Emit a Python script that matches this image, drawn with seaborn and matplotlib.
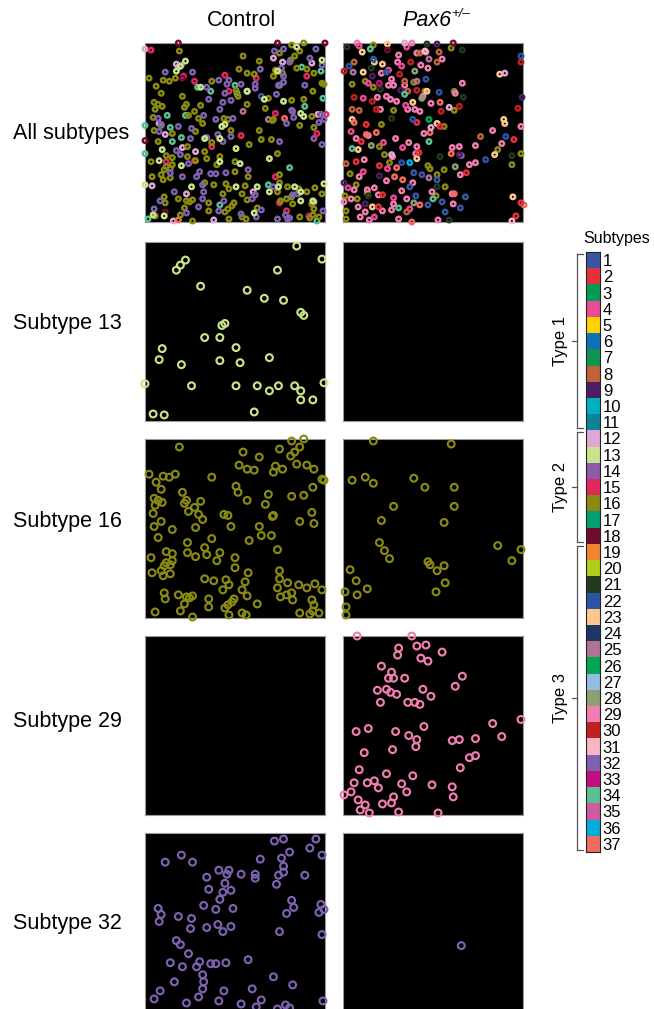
import numpy as np
import matplotlib
matplotlib.use("Agg")
import matplotlib.pyplot as plt
import seaborn as sns
from matplotlib.colors import ListedColormap

plt.rcParams['font.family'] = ['Liberation Sans', 'DejaVu Sans']

## DATA ##
# subtype colours 1..37 (legend)
subtype_colors = ['#3A55A4', '#E8303A', '#009B55', '#E84C97', '#FFD200', '#0D72B9', '#0C9650',
                  '#C0623A', '#4B1D63', '#00AFC4', '#0A8598', '#E0A7D4', '#C8E38A', '#8F5BA8',
                  '#E2295E', '#8A8A12', '#00A070', '#6E0D2E', '#F08530', '#B3CE1A', '#213A1F',
                  '#2B54A3', '#FCC88B', '#1F3566', '#B17394', '#00A651', '#94BDE3', '#8E9F73',
                  '#F27DB0', '#C0201F', '#F7B6C2', '#7E62B0', '#C10F7D', '#5CBF94', '#CF5B9E',
                  '#00AEDB', '#F26B5B']
subtype_labels = [str(i) for i in range(1, 38)]
type_groups = [('Type 1', 1, 11), ('Type 2', 12, 18), ('Type 3', 19, 37)]
row_labels = ['All subtypes', 'Subtype 13', 'Subtype 16', 'Subtype 29', 'Subtype 32']

# cell positions (um) inside a 178 x 178 field, y from top
ctrl_13 = [(150, 4), (40, 18), (35, 23), (31, 28), (175, 17), (131, 28), (55, 44), (101, 48),
           (118, 56), (137, 58), (154, 70), (157, 73), (79, 81), (76, 83), (59, 95), (74, 95),
           (90, 105), (17, 106), (14, 117), (36, 122), (74, 118), (94, 120), (123, 115), (0, 141),
           (46, 143), (90, 143), (111, 143), (123, 148), (132, 143), (148, 143), (154, 148),
           (154, 157), (166, 157), (177, 140), (8, 171), (19, 172), (108, 169)]
pax_13 = []

ctrl_16 = [(145, 2), (157, 0), (153, 8), (148, 13), (144, 17), (150, 25), (133, 10), (34, 8),
           (97, 13), (113, 18), (93, 26), (101, 30), (108, 31), (129, 27), (127, 33), (136, 30),
           (160, 26), (167, 30), (4, 35), (18, 37), (24, 38), (30, 35), (11, 43), (16, 50),
           (66, 38), (175, 40), (177, 41), (90, 47), (92, 53), (101, 61), (122, 55), (119, 65),
           (145, 57), (157, 56), (166, 48), (37, 53), (9, 59), (13, 61), (17, 63), (10, 66),
           (8, 74), (41, 61), (39, 64), (43, 72), (49, 68), (55, 62), (53, 75), (57, 80),
           (78, 75), (82, 76), (85, 87), (126, 77), (127, 76), (165, 73), (153, 82), (167, 84),
           (16, 82), (9, 87), (27, 90), (50, 88), (13, 98), (113, 87), (115, 96), (125, 96),
           (103, 101), (66, 99), (42, 103), (42, 113), (50, 117), (59, 108), (61, 115), (74, 113),
           (71, 121), (89, 118), (89, 128), (131, 110), (6, 118), (21, 112), (27, 114), (27, 121),
           (21, 123), (19, 126), (25, 125), (7, 133), (16, 131), (18, 136), (25, 134), (102, 133),
           (99, 142), (96, 150), (101, 156), (59, 139), (68, 141), (80, 140), (83, 145), (77, 150),
           (133, 131), (133, 139), (141, 143), (131, 148), (134, 157), (140, 155), (145, 153),
           (146, 160), (152, 145), (160, 148), (168, 144), (175, 150), (165, 160), (167, 165),
           (166, 171), (163, 174), (172, 173), (153, 173), (19, 153), (20, 159), (33, 155),
           (41, 157), (44, 158), (47, 156), (39, 164), (35, 171), (10, 172), (47, 177), (63, 159),
           (63, 167), (79, 168), (82, 165), (88, 159), (86, 162), (83, 175), (96, 173), (100, 175),
           (111, 164)]
pax_16 = [(30, 2), (107, 5), (9, 41), (22, 38), (30, 44), (70, 39), (81, 48), (110, 48),
          (110, 67), (50, 67), (38, 81), (100, 83), (36, 103), (41, 111), (46, 119), (84, 122),
          (86, 125), (93, 131), (100, 126), (101, 143), (92, 152), (153, 106), (176, 110),
          (167, 121), (7, 130), (13, 141), (2, 152), (14, 155), (24, 149), (3, 167), (3, 175)]

ctrl_29 = []
pax_29 = [(14, 0), (68, 0), (55, 12), (54, 19), (73, 10), (82, 9), (77, 22), (84, 25), (98, 16),
          (38, 30), (48, 36), (45, 42), (50, 42), (61, 42), (34, 54), (43, 53), (47, 56), (53, 58),
          (37, 66), (79, 53), (87, 60), (64, 66), (71, 66), (76, 68), (111, 50), (118, 40),
          (13, 95), (25, 92), (52, 95), (65, 99), (73, 103), (72, 110), (80, 90), (49, 113),
          (21, 116), (108, 104), (115, 103), (131, 102), (148, 87), (157, 100), (176, 83),
          (125, 121), (131, 119), (116, 131), (16, 133), (43, 137), (69, 139), (11, 146), (24, 146),
          (31, 144), (35, 151), (58, 147), (63, 155), (88, 148), (108, 150), (109, 160), (1, 158),
          (8, 155), (15, 163), (22, 168), (17, 173), (26, 176), (39, 167), (48, 166), (50, 160),
          (55, 175), (94, 176)]

ctrl_32 = [(128, 8), (137, 6), (169, 6), (163, 15), (175, 22), (143, 19), (135, 25), (137, 33),
           (137, 39), (132, 42), (130, 51), (158, 42), (114, 26), (109, 41), (109, 45), (95, 41),
           (20, 29), (36, 22), (47, 29), (73, 37), (83, 37), (81, 41), (61, 44), (79, 50), (63, 56),
           (77, 59), (85, 57), (74, 66), (58, 72), (70, 76), (87, 75), (13, 75), (16, 81), (14, 88),
           (33, 83), (46, 85), (45, 95), (61, 94), (72, 91), (77, 98), (85, 93), (145, 67),
           (147, 74), (140, 80), (174, 71), (177, 76), (172, 79), (175, 101), (133, 98), (31, 107),
           (35, 111), (43, 120), (25, 129), (37, 133), (51, 133), (54, 128), (65, 130), (70, 130),
           (80, 129), (102, 126), (57, 141), (58, 148), (29, 148), (57, 155), (53, 163), (15, 157),
           (9, 165), (41, 169), (78, 157), (73, 167), (95, 170), (106, 155), (115, 166), (110, 173),
           (127, 143), (146, 151), (139, 171), (131, 175), (143, 174), (176, 167)]
pax_32 = [(117, 112)]

# other subtypes, shown only in the "All subtypes" panels
ctrl_12 = [(0, 6), (31, 21), (33, 24), (20, 91), (37, 104), (50, 108), (41, 150), (7, 142),
           (107, 148), (127, 15), (165, 20), (136, 19), (171, 71), (167, 158), (68, 176), (28, 177),
           (101, 48), (14, 80)]
ctrl_14 = [(146, 68), (151, 150), (141, 175), (167, 95), (109, 151)]
ctrl_15 = [(6, 7), (38, 33), (49, 38), (79, 32), (83, 48), (110, 35), (95, 92), (66, 103),
           (49, 117), (129, 70), (129, 133), (160, 33), (170, 90), (179, 71), (133, 159),
           (140, 167), (21, 118)]
ctrl_18 = [(33, 0), (131, 0), (178, 0), (0, 97), (20, 168), (37, 35)]
ctrl_34 = [(89, 42), (91, 50), (65, 48), (52, 44), (22, 72), (25, 84), (36, 94), (27, 98),
           (0, 110), (0, 82), (143, 124), (176, 55), (174, 28), (155, 24), (158, 63), (133, 42),
           (3, 175), (74, 161), (122, 141), (170, 177), (40, 72)]
ctrl_1 = [(115, 53)]
ctrl_37 = [(33, 176), (138, 75)]
ctrl_25 = [(97, 68), (122, 76)]
ctrl_33 = [(162, 172)]

pax_23 = [(19, 9), (44, 1), (31, 19), (20, 29), (39, 21), (155, 31), (83, 48), (69, 59), (9, 76),
          (93, 80), (159, 76), (160, 80), (15, 106), (150, 111), (73, 115), (29, 163), (168, 153)]
pax_37 = [(96, 59), (11, 79), (23, 91), (33, 89), (86, 89), (107, 110), (53, 124), (51, 133),
          (59, 136), (110, 150), (76, 161), (68, 178), (179, 161)]
pax_30 = [(1, 28), (176, 19), (67, 19), (56, 31), (73, 47), (11, 54), (29, 58), (33, 66),
          (97, 68), (115, 63), (173, 65)]
pax_2 = [(23, 81), (73, 79), (96, 83), (18, 98), (75, 109), (13, 118), (36, 122), (122, 129),
         (169, 96), (39, 151), (35, 163), (176, 159), (171, 172)]
pax_4 = [(16, 3), (63, 4), (58, 23), (25, 40), (45, 27), (20, 55), (62, 62), (8, 88), (40, 99),
         (59, 104), (20, 128), (44, 125), (5, 144), (50, 154), (66, 165), (31, 173)]
pax_22 = [(176, 13), (6, 23), (30, 16), (43, 29), (82, 36), (95, 49), (69, 76), (161, 93),
          (141, 116), (58, 119)]
pax_1 = [(70, 129), (78, 131), (93, 136), (66, 143), (121, 153), (72, 152), (98, 158), (84, 161),
         (101, 168), (116, 164)]
pax_21 = [(4, 4), (83, 1), (118, 7), (28, 25), (119, 54), (48, 75), (96, 113), (167, 112),
          (93, 143), (25, 152), (105, 176), (37, 46)]
pax_8 = [(11, 19), (76, 10), (95, 9), (93, 19), (64, 48), (16, 67), (136, 93), (3, 120),
         (63, 168), (61, 38), (9, 66)]
pax_9 = [(93, 1), (29, 33), (57, 47), (177, 54), (36, 132), (1, 139), (22, 160), (115, 111)]
pax_18 = [(109, 0), (44, 7)]
pax_25 = [(10, 29), (85, 16), (73, 38), (85, 134)]
pax_28 = [(71, 28), (78, 55), (28, 102), (111, 123), (70, 159)]
pax_12 = [(61, 0), (160, 30), (105, 64), (87, 84), (48, 111)]
pax_34 = [(27, 6), (85, 98), (9, 105), (89, 155), (55, 164), (61, 51)]
pax_36 = [(66, 119)]
pax_26 = [(85, 76)]
pax_33 = [(36, 40)]
pax_31 = [(81, 8), (167, 177)]

all_ctrl = [(12, ctrl_12), (14, ctrl_14), (15, ctrl_15), (18, ctrl_18), (34, ctrl_34), (1, ctrl_1),
            (37, ctrl_37), (25, ctrl_25), (33, ctrl_33), (16, ctrl_16), (32, ctrl_32), (13, ctrl_13)]
all_pax = [(16, pax_16), (29, pax_29), (32, pax_32), (4, pax_4), (23, pax_23), (37, pax_37),
           (30, pax_30), (2, pax_2), (22, pax_22), (1, pax_1), (21, pax_21), (8, pax_8), (9, pax_9),
           (18, pax_18), (25, pax_25), (28, pax_28), (12, pax_12), (34, pax_34), (36, pax_36),
           (26, pax_26), (33, pax_33), (31, pax_31)]
single_rows = [(13, ctrl_13, pax_13), (16, ctrl_16, pax_16), (29, ctrl_29, pax_29), (32, ctrl_32, pax_32)]
FIELD = 178

W, H = 654, 1009
fig = plt.figure(figsize=(W / 100, H / 100), dpi=100)


def rings(ax, pts, sid, s, lw):
    if not pts:
        return
    xy = np.array(pts, dtype=float)
    col = subtype_colors[sid - 1]
    sns.scatterplot(x=xy[:, 0], y=xy[:, 1], ax=ax, s=s, color=col, facecolor='none',
                    edgecolor=col, linewidth=lw, clip_on=False, legend=False, zorder=3)


def panel(top, left):
    ax = fig.add_axes([left / W, 1 - (top + 179) / H, 180 / W, 179 / H])
    ax.set_facecolor('black')
    return ax


row_tops = [43, 242, 439, 636, 833]
col_lefts = [145, 343]

axes = [[panel(t, l) for l in col_lefts] for t in row_tops]

for sid, pts in all_ctrl:
    rings(axes[0][0], pts, sid, 10.5, 1.75)
for sid, pts in all_pax:
    rings(axes[0][1], pts, sid, 10.5, 1.75)
for r, (sid, cpts, ppts) in enumerate(single_rows, start=1):
    rings(axes[r][0], cpts, sid, 24, 1.55)
    rings(axes[r][1], ppts, sid, 24, 1.55)

for row in axes:
    for ax in row:
        ax.set_xlim(0, FIELD)
        ax.set_ylim(FIELD, 0)
        ax.set_xticks([])
        ax.set_yticks([])
        ax.set_xlabel('')
        ax.set_ylabel('')
        for sp in ax.spines.values():
            sp.set_color('#9a9a9a')
            sp.set_linewidth(0.8)

# headers and row labels
fig.text(242 / W, 1 - 20 / H, 'Control', ha='center', va='center', fontsize=15.5)
fig.text(451 / W, 1 - 21 / H, 'Pax6', ha='right', va='center', fontsize=15.5, style='italic')
fig.text(451 / W, 1 - 14 / H, '+/\u2013', ha='left', va='center', fontsize=9.5, style='italic')
for lab, yc in zip(row_labels, [133, 323, 521, 722, 923]):
    fig.text(13 / W, 1 - yc / H, lab, ha='left', va='center', fontsize=15.5)

# subtype colour key
lax = fig.add_axes([586 / W, 1 - 852 / H, 14 / W, 600 / H])
sns.heatmap(np.arange(37).reshape(-1, 1), cmap=ListedColormap(subtype_colors), cbar=False,
            ax=lax, xticklabels=False, yticklabels=subtype_labels)
lax.yaxis.tick_right()
lax.tick_params(axis='y', length=0, labelsize=12, pad=2, rotation=0)
for sp in lax.spines.values():
    sp.set_visible(True)
    sp.set_color('#222222')
    sp.set_linewidth(0.8)
fig.text(617 / W, 1 - 238 / H, 'Subtypes', ha='center', va='center', fontsize=11.5)

bc = '#555555'
for name, a, b in type_groups:
    y0, y1 = a - 1 + 0.12, b - 0.12
    ym = (a - 1 + b) / 2
    kw = dict(color=bc, lw=0.9, clip_on=False)
    lax.plot([-0.64, -0.64], [y0, y1], **kw)
    lax.plot([-0.64, -0.2], [y0, y0], **kw)
    lax.plot([-0.64, -0.2], [y1, y1], **kw)
    lax.plot([-1.0, -0.64], [ym, ym], **kw)
    lax.text(-1.8, ym, name, rotation=90, ha='center', va='center', fontsize=12)

fig.savefig('out.png', dpi=100, facecolor='white')
